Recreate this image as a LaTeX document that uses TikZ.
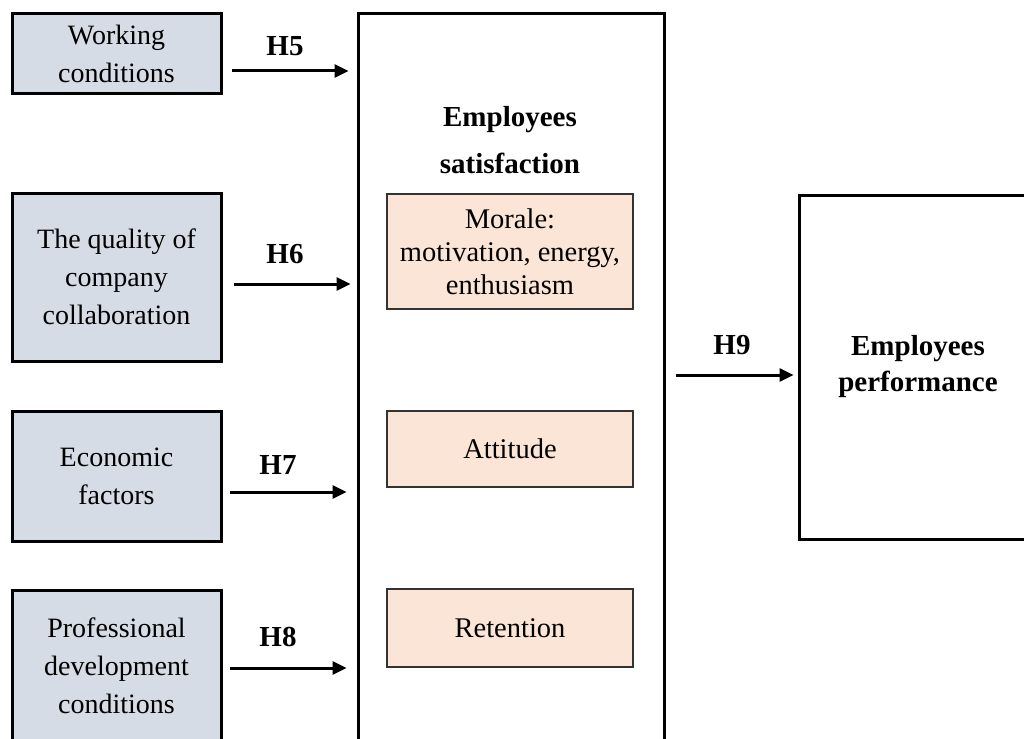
\documentclass[tikz,border=0pt]{standalone}
\usepackage{fontspec}
\setmainfont{Liberation Serif}
\usetikzlibrary{arrows.meta}
\definecolor{factorfill}{HTML}{D6DCE5}
\definecolor{dimfill}{HTML}{FBE5D6}
\begin{document}
\begin{tikzpicture}[x=1pt,y=-1pt,
  factor/.style={draw=black, line width=3pt, fill=factorfill, align=center,
    inner sep=0pt, minimum width=209pt, font=\fontsize{28}{38}\selectfont},
  frame/.style={draw=black, line width=3pt, inner sep=0pt},
  dimension/.style={draw=black!80, line width=1.3pt, fill=dimfill, align=center,
    inner sep=0pt, minimum width=246pt, font=\fontsize{28.5}{33}\selectfont},
  title/.style={align=center, inner sep=0pt, font=\bfseries\fontsize{29}{47}\selectfont},
  link/.style={line width=3pt, -{Triangle[length=14pt,width=13pt]}},
  hyp/.style={inner sep=0pt, font=\bfseries\fontsize{29}{32}\selectfont},
]
\useasboundingbox (0,0) rectangle (1024,738);
\clip (0,0) rectangle (1024,738);

% antecedent factors
\node[factor, minimum height=80pt]  (wc) at (116.5,54)  {Working\\conditions};
\node[factor, minimum height=168pt] (qc) at (116.5,277) {The quality of\\company\\collaboration};
\node[factor, minimum height=130pt] (ef) at (116.5,476) {Economic\\factors};
\node[factor, minimum height=152pt] (pd) at (116.5,666) {Professional\\development\\conditions};

% employees satisfaction block
\node[frame, minimum width=306pt, minimum height=756pt] (sat) at (511,392) {};
\node[title] (satl) at (510,140) {Employees\\satisfaction};
\node[dimension, minimum height=115pt] (morale) at (510,251.5) {Morale:\\motivation, energy,\\enthusiasm};
\node[dimension, minimum height=76pt]  (att)    at (510,449)   {Attitude};
\node[dimension, minimum height=78pt]  (ret)    at (510,628)   {Retention};

% outcome
\node[frame, minimum width=238pt, minimum height=344pt] (perf) at (918,367) {};
\node[title, font=\bfseries\fontsize{29}{36}\selectfont] (perfl) at (918,367) {Employees\\performance};

% hypotheses
\draw[link, shorten >=8pt]  ([xshift=9pt,yshift=-17pt]wc.east) coordinate (s5) -- (s5 -| sat.west);
\draw[link, shorten >=6pt]  ([xshift=11pt,yshift=-7pt]qc.east) coordinate (s6) -- (s6 -| sat.west);
\draw[link, shorten >=10pt] ([xshift=7pt,yshift=-16pt]ef.east) coordinate (s7) -- (s7 -| sat.west);
\draw[link, shorten >=10pt] ([xshift=7pt,yshift=-2pt]pd.east)  coordinate (s8) -- (s8 -| sat.west);
\draw[link, shorten >=4pt]  ([xshift=10pt,yshift=17pt]sat.east) coordinate (s9) -- (s9 -| perf.west);

\node[hyp] (h5) at (285,46)  {H5};
\node[hyp] (h6) at (285,254) {H6};
\node[hyp] (h7) at (278,465) {H7};
\node[hyp] (h8) at (278,637) {H8};
\node[hyp] (h9) at (732,345) {H9};
\end{tikzpicture}
\end{document}
